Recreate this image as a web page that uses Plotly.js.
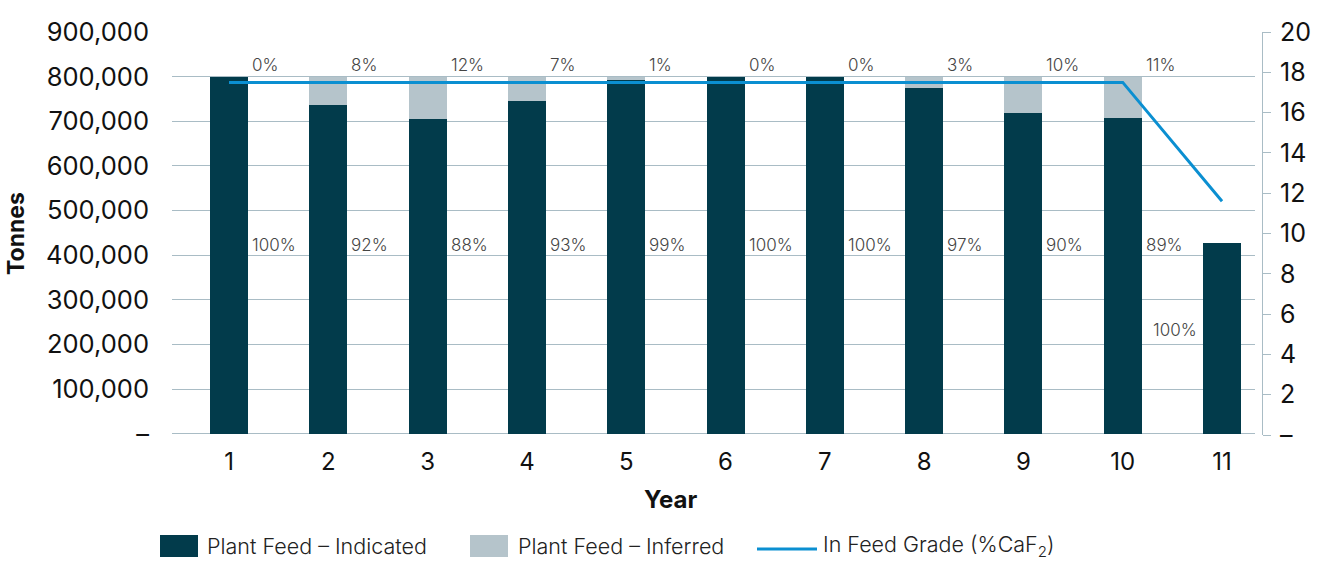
<!DOCTYPE html>
<html>
<head>
<meta charset="utf-8">
<script src="https://cdn.plot.ly/plotly-3.0.1.min.js"></script>
<style>html,body{margin:0;padding:0;background:#fff;}#chart{width:1322px;height:561px;}</style>
</head>
<body>
<div id="chart"></div>
<script>
// ---- data ----
const years = [1, 2, 3, 4, 5, 6, 7, 8, 9, 10, 11];
const indicated = [800000, 736000, 705000, 745000, 792000, 800000, 800000, 774000, 718000, 708000, 428000];
const inferred = [0, 64000, 95000, 55000, 8000, 0, 0, 26000, 82000, 92000, 0];
const feedGrade = [17.5, 17.5, 17.5, 17.5, 17.5, 17.5, 17.5, 17.5, 17.5, 17.5, 11.6];
const inferredPctLabels = ['0%', '8%', '12%', '7%', '1%', '0%', '0%', '3%', '10%', '11%', ''];
const indicatedPctLabels = ['100%', '92%', '88%', '93%', '99%', '100%', '100%', '97%', '90%', '89%', '100%'];
const leftTickVals = [0, 100000, 200000, 300000, 400000, 500000, 600000, 700000, 800000, 900000];
const leftTickText = ['–', '100,000', '200,000', '300,000', '400,000', '500,000', '600,000', '700,000', '800,000', '900,000'];
const rightTickVals = [0, 2, 4, 6, 8, 10, 12, 14, 16, 18, 20];
const rightTickText = ['–', '2', '4', '6', '8', '10', '12', '14', '16', '18', '20'];
const seriesNames = ['Plant Feed – Indicated', 'Plant Feed – Inferred', 'In Feed Grade (%CaF<sub>2</sub>)'];
const xTitle = 'Year';
const yTitle = 'Tonnes';

// ---- style ----
const FONT = 'Inter, "Liberation Sans", Arial, sans-serif';
const DARK = '#023b4b';
const GREY = '#b5c4cb';
const BLUE = '#0b8fd1';
const GRID = '#a9bcc5';
const BARW = 0.383;

const L = 172, R = 67, T = 32, B = 126, W = 1322, H = 561;
const PW = W - L - R, PH = H - T - B;
const px = v => (v - L) / PW;
const py = v => (H - B - v) / PH;

const traces = [
  {type: 'bar', x: years, y: indicated, name: seriesNames[0], marker: {color: DARK}, width: BARW, hoverinfo: 'y'},
  {type: 'bar', x: years, y: inferred, name: seriesNames[1], marker: {color: GREY}, width: BARW, hoverinfo: 'y'},
  {type: 'scatter', mode: 'lines', x: years, y: feedGrade, yaxis: 'y2', name: seriesNames[2], line: {color: BLUE, width: 3}}
];

const annotations = [];
const pctFont = {family: FONT, size: 17, color: '#444', weight: 300};
years.forEach((yr, i) => {
  if (inferredPctLabels[i]) {
    annotations.push({x: yr + BARW / 2, y: 826000, xref: 'x', yref: 'y', text: inferredPctLabels[i],
      showarrow: false, xanchor: 'left', yanchor: 'middle', xshift: 2, font: pctFont});
  }
  const last = i === years.length - 1;
  annotations.push({x: last ? yr - BARW / 2 : yr + BARW / 2, y: last ? 232000 : 423000, xref: 'x', yref: 'y',
    text: indicatedPctLabels[i], showarrow: false, xanchor: last ? 'right' : 'left', yanchor: 'middle',
    xshift: last ? -4 : 2, font: pctFont});
});

// axis title (x) placed to match reference
annotations.push({xref: 'paper', yref: 'paper', x: px(670), y: py(499), text: xTitle, showarrow: false,
  xanchor: 'center', yanchor: 'middle', font: {family: FONT, size: 24, color: '#111', weight: 'bold'}});

// manual legend
const legFont = {family: FONT, size: 21.5, color: '#222', weight: 300};
const shapes = [
  {type: 'rect', xref: 'paper', yref: 'paper', x0: px(160), x1: px(198), y0: py(557), y1: py(535), fillcolor: DARK, line: {width: 0}},
  {type: 'rect', xref: 'paper', yref: 'paper', x0: px(470), x1: px(508), y0: py(557), y1: py(535), fillcolor: GREY, line: {width: 0}},
  {type: 'line', xref: 'paper', yref: 'paper', x0: px(757), x1: px(817), y0: py(549), y1: py(549), line: {color: BLUE, width: 3}}
];
[[205, 0], [516, 1], [821, 2]].forEach(([xp, k]) => {
  annotations.push({xref: 'paper', yref: 'paper', x: px(xp), y: py(546), text: seriesNames[k], showarrow: false,
    xanchor: 'left', yanchor: 'middle', font: legFont});
});

const layout = {
  width: W, height: H,
  margin: {l: L, r: R, t: T, b: B, pad: 0},
  paper_bgcolor: '#fff', plot_bgcolor: '#fff',
  barmode: 'stack',
  showlegend: false,
  font: {family: FONT, color: '#111'},
  xaxis: {
    range: [0.426, 11.332], tickvals: years, ticktext: years.map(String),
    showgrid: false, zeroline: false, showline: false, ticks: '',
    tickfont: {family: FONT, size: 24, color: '#111'}, ticklabelstandoff: 10
  },
  yaxis: {
    range: [-3000, 900000], tickvals: leftTickVals, ticktext: leftTickText,
    showgrid: true, gridcolor: GRID, gridwidth: 1, zeroline: false, showline: false, ticks: '',
    tickfont: {family: FONT, size: 25.5, color: '#111'}, ticklabelstandoff: 22,
    title: {text: yTitle, font: {family: FONT, size: 23, color: '#111', weight: 'bold'}, standoff: 14}
  },
  yaxis2: {
    overlaying: 'y', side: 'right', anchor: 'free', position: 1, shift: 7,
    range: [0, 20], tickvals: rightTickVals, ticktext: rightTickText,
    showgrid: false, zeroline: false, showline: true, linecolor: GRID, linewidth: 1,
    ticks: 'outside', ticklen: 8, tickcolor: GRID, tickwidth: 1,
    tickfont: {family: FONT, size: 25, color: '#111'}, ticklabelstandoff: 4
  },
  annotations: annotations,
  shapes: shapes
};

Plotly.newPlot('chart', traces, layout, {displayModeBar: false, staticPlot: true});
</script>
</body>
</html>
